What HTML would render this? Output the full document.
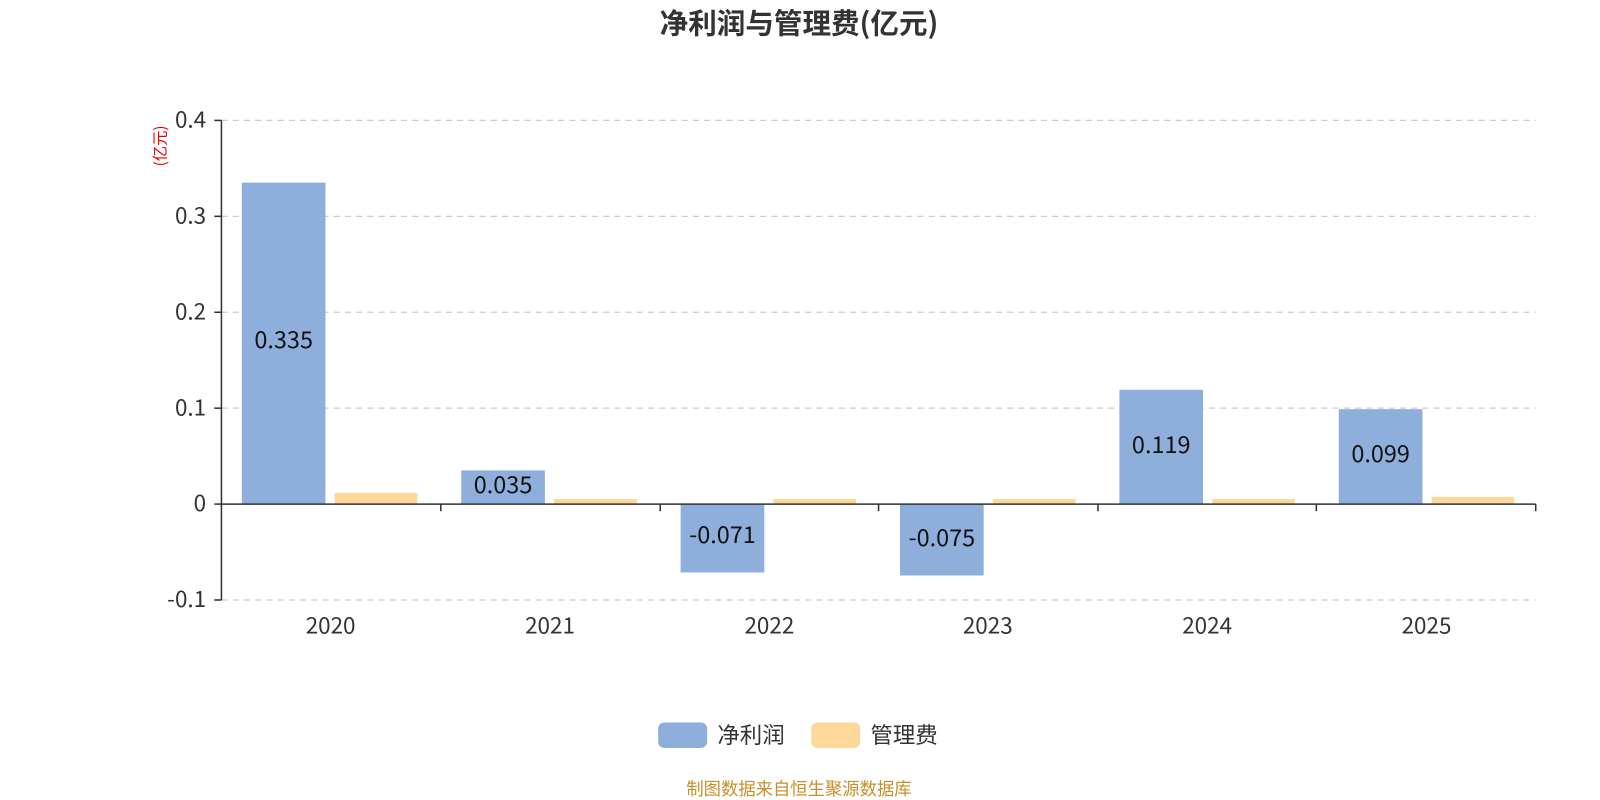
<!DOCTYPE html>
<html><head><meta charset="utf-8"><style>
html,body{margin:0;padding:0;background:#fff;}
svg{display:block;font-family:"Noto Sans CJK SC","Liberation Sans",sans-serif;}
</style></head><body>
<svg width="1600" height="800" viewBox="0 0 1568 784" xmlns="http://www.w3.org/2000/svg">
<text x="783" y="33" text-anchor="middle" font-size="28" font-weight="bold" fill="#333">净利润与管理费(亿元)</text>
<g stroke="#ccc" stroke-dasharray="6,5" stroke-width="1.2">
<line x1="217" y1="118" x2="1505" y2="118"/>
<line x1="217" y1="212" x2="1505" y2="212"/>
<line x1="217" y1="306" x2="1505" y2="306"/>
<line x1="217" y1="400" x2="1505" y2="400"/>
<line x1="217" y1="588" x2="1505" y2="588"/>
</g>
<g fill="#8eaedb">
<rect x="237" y="179" width="82" height="315"/>
<rect x="452" y="461" width="82" height="33"/>
<rect x="667" y="494" width="82" height="67"/>
<rect x="882" y="494" width="82" height="70"/>
<rect x="1097" y="382" width="82" height="112"/>
<rect x="1312" y="401" width="82" height="93"/>
</g>
<g fill="#fed898">
<rect x="328" y="483" width="81" height="11"/>
<rect x="543" y="489" width="81" height="5"/>
<rect x="758" y="489" width="81" height="5"/>
<rect x="973" y="489" width="81" height="5"/>
<rect x="1188" y="489" width="81" height="5"/>
<rect x="1403" y="487" width="81" height="7"/>
</g>
<g stroke="#333" stroke-width="1.5">
<line x1="217" y1="118" x2="217" y2="588"/>
<line x1="217" y1="494" x2="1505" y2="494"/>
<line x1="210" y1="118" x2="217" y2="118"/>
<line x1="210" y1="212" x2="217" y2="212"/>
<line x1="210" y1="306" x2="217" y2="306"/>
<line x1="210" y1="400" x2="217" y2="400"/>
<line x1="210" y1="494" x2="217" y2="494"/>
<line x1="210" y1="588" x2="217" y2="588"/>
<line x1="432" y1="494" x2="432" y2="501"/>
<line x1="647" y1="494" x2="647" y2="501"/>
<line x1="861" y1="494" x2="861" y2="501"/>
<line x1="1076" y1="494" x2="1076" y2="501"/>
<line x1="1290" y1="494" x2="1290" y2="501"/>
<line x1="1505" y1="494" x2="1505" y2="501"/>
</g>
<g font-size="22" fill="#333" text-anchor="end">
<text x="202" y="125">0.4</text>
<text x="202" y="219">0.3</text>
<text x="202" y="313">0.2</text>
<text x="202" y="407">0.1</text>
<text x="202" y="501">0</text>
<text x="202" y="595">-0.1</text>
</g>
<g font-size="22" fill="#333" text-anchor="middle">
<text x="324" y="621">2020</text>
<text x="539" y="621">2021</text>
<text x="754" y="621">2022</text>
<text x="968" y="621">2023</text>
<text x="1183" y="621">2024</text>
<text x="1398" y="621">2025</text>
</g>
<text transform="translate(162,143) rotate(-90)" font-size="15" fill="#e00" text-anchor="middle">(亿元)</text>
<g font-size="23" fill="#111" text-anchor="middle">
<text x="278" y="341">0.335</text>
<text x="493" y="483">0.035</text>
<text x="708" y="532">-0.071</text>
<text x="923" y="535">-0.075</text>
<text x="1138" y="444">0.119</text>
<text x="1353" y="453">0.099</text>
</g>
<rect x="645" y="708" width="48" height="25" rx="6" fill="#8eaedb"/>
<text x="703" y="728" font-size="22" fill="#333">净利润</text>
<rect x="795" y="708" width="48" height="25" rx="6" fill="#fed898"/>
<text x="853" y="728" font-size="22" fill="#333">管理费</text>
<text x="783" y="779" font-size="17" fill="#c8902a" text-anchor="middle">制图数据来自恒生聚源数据库</text>
</svg>
</body></html>
